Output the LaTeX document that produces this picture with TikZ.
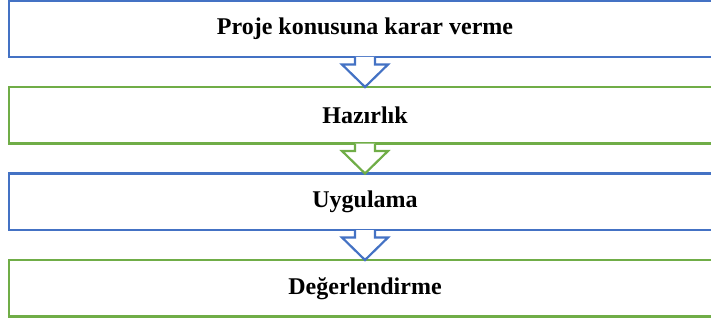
\documentclass[tikz,border=0pt]{standalone}
\usepackage{fontspec}
\setmainfont{Liberation Serif}
\usepackage{tikz}
\usetikzlibrary{
  arrows.meta,
  positioning
}
\definecolor{StepBlue}{RGB}{68,114,196}
\definecolor{StepGreen}{RGB}{112,173,71}
\tikzset{
  stepbox/.style={draw=#1,fill=white,line width=2.2pt,minimum width=712pt,minimum height=56.5pt,inner sep=0pt,outer sep=0pt,align=center,font=\fontsize{24}{28}\selectfont\bfseries},
  downarrow/.style={draw=#1,fill=white,line width=2.2pt,line join=miter}
}

\begin{document}
\begin{tikzpicture}[node distance=30pt]
\useasboundingbox (0,0) rectangle (711pt,322pt);
\node[stepbox=StepBlue] (konu) at (365pt,293.25pt) {Proje konusuna karar verme};
\node[stepbox=StepGreen, below=of konu] (hazirlik) {Hazırlık};
\node[stepbox=StepBlue, below=of hazirlik] (uygulama) {Uygulama};
\node[stepbox=StepGreen, below=of uygulama] (degerlendirme) {Değerlendirme};

\foreach \from/\to/\col in {konu/hazirlik/StepBlue, hazirlik/uygulama/StepGreen, uygulama/degerlendirme/StepBlue}
  \filldraw[downarrow=\col] ([xshift=-10pt]\from.south) -- ++(0,-7.5pt) -- ++(-13pt,0) -- (\to.north)
    -- ([xshift=23pt,yshift=-7.5pt]\from.south) -- ++(-13pt,0) -- ([xshift=10pt]\from.south);
\end{tikzpicture}
\end{document}
